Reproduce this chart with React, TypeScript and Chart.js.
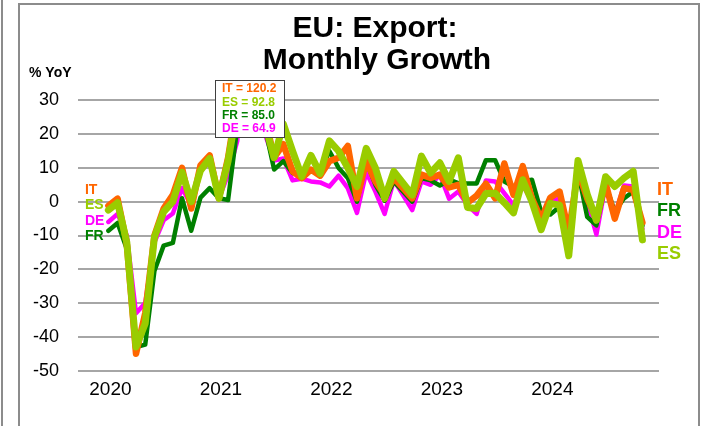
import React, { useEffect, useRef } from 'react';
import { Chart, registerables } from 'chart.js';

Chart.register(...registerables);

const FONT = "'Liberation Sans', Arial, Helvetica, sans-serif";

// Monthly categories, Jan 2020 .. Nov 2024
const months = [
  'Jan-20','Feb-20','Mar-20','Apr-20','May-20','Jun-20','Jul-20','Aug-20','Sep-20','Oct-20','Nov-20','Dec-20',
  'Jan-21','Feb-21','Mar-21','Apr-21','May-21','Jun-21','Jul-21','Aug-21','Sep-21','Oct-21','Nov-21','Dec-21',
  'Jan-22','Feb-22','Mar-22','Apr-22','May-22','Jun-22','Jul-22','Aug-22','Sep-22','Oct-22','Nov-22','Dec-22',
  'Jan-23','Feb-23','Mar-23','Apr-23','May-23','Jun-23','Jul-23','Aug-23','Sep-23','Oct-23','Nov-23','Dec-23',
  'Jan-24','Feb-24','Mar-24','Apr-24','May-24','Jun-24','Jul-24','Aug-24','Sep-24','Oct-24','Nov-24',
];

const yearLabels = ['2020', '2021', '2022', '2023', '2024'];
const yearTickMonths = ['Jan-20', 'Jan-21', 'Jan-22', 'Jan-23', 'Jan-24'];
const yTickValues = [-50, -40, -30, -20, -10, 0, 10, 20, 30];

const IT = [
  -1.2, 0.9, -12.5, -45, -33, -10, -2, 2, 10, -2, 10.7, 13.7,
  1, 13, 30, 120.2, 45, 25, 13, 17, 9, 7, 9.5, 7.7,
  12, 13, 16.5, 1, 12, 6, 2, 7, 4, 1, 8, 7,
  8, 4.2, 5, -0.3, 1.8, 5.3, 1, 11.3, 2, 10.5, 1, -5.2,
  1.2, 3, -9, 9, 1, -5, 5.5, -5, 4, 3.5, -6.2,
];

const ES = [
  -2.5, -0.3, -12, -43, -36, -10.5, -3, 0, 8.7, 0, 9.2, 12.8,
  1, 12, 28, 92.8, 40, 23, 13, 23, 15, 7.5, 13.7, 8.3,
  18, 15, 10, 4.5, 15.8, 10, 1, 9, 5.5, 2, 13.5, 8.5,
  11.5, 6, 13, -1.7, -2, 2.4, 2.5, -0.3, -3.3, 6.5, 0, -8.3,
  -0.5, -1, -16, 12.2, 2.2, -5.5, 7.4, 4.5, 7, 9, -11.3,
];

const FR = [
  -8.6, -6.3, -14, -43, -42.3, -20.5, -13, -12.2, 1, -8.6, 1.2, 4,
  1, 0.5, 22, 85.0, 35, 22, 9.5, 12, 8.5, 8.5, 9, 8.5,
  15, 10, 7, 0, 12, 5, 0.3, 6, 3, 0, 7, 6.3,
  4.8, 6.5, 5.5, 5.4, 5.4, 12.3, 12.3, 6, 4.5, 6, 6.5, -3,
  -3.8, -1.5, -10, 9, -4.5, -7, 5, -3, 1, 3, -7,
];

const DE = [
  -6, -3.6, -10, -33, -30, -12, -5.5, -3.5, 4, -1, 9, 12,
  1, 8, 18, 64.9, 30, 20, 12.2, 12.8, 6.3, 6.8, 6, 5.7,
  4.5, 7.7, 4, -3.3, 8.7, 3, -3.6, 6.3, 2, -2.5, 6, 5,
  8, 0.9, 3, -1, -3.6, 6.3, 6, 2.5, -1, 5, 0, -5,
  0, 1, -10, 9, 0, -9.7, 5, -4, 4.8, 4.5, -8,
];

const PEAK_MONTH = 'Apr-21';
const peakLines = [
  { text: 'IT = 120.2', color: '#FF6600' },
  { text: 'ES = 92.8', color: '#99CC00' },
  { text: 'FR = 85.0', color: '#008000' },
  { text: 'DE = 64.9', color: '#FF00FF' },
];
const leftLabels = [
  { text: 'IT', color: '#FF6600' },
  { text: 'ES', color: '#99CC00' },
  { text: 'DE', color: '#FF00FF' },
  { text: 'FR', color: '#008000' },
];
const rightLabels = [
  { text: 'IT', color: '#FF6600' },
  { text: 'FR', color: '#008000' },
  { text: 'DE', color: '#FF00FF' },
  { text: 'ES', color: '#99CC00' },
];

const toPoints = (arr: number[]) => arr.map((v, i) => ({ x: i, y: v }));

const overlay = {
  id: 'overlay',
  afterDatasetsDraw(chart: any) {
    const ctx = chart.ctx as CanvasRenderingContext2D;
    const xs = chart.scales.x;
    // annotation box over the April 2021 spike
    const px = xs.getPixelForValue(months.indexOf(PEAK_MONTH));
    const bx = Math.round(px - 31.5) + 0.5;
    const by = 80.5;
    const bw = 69;
    const bh = 57;
    ctx.save();
    ctx.fillStyle = '#ffffff';
    ctx.fillRect(bx, by, bw, bh);
    ctx.strokeStyle = '#404040';
    ctx.lineWidth = 1;
    ctx.strokeRect(bx, by, bw, bh);
    ctx.font = `bold 12px ${FONT}`;
    ctx.textBaseline = 'middle';
    ctx.textAlign = 'left';
    const rowsY = [88.5, 102.5, 115.5, 129];
    peakLines.forEach((l, i) => {
      ctx.fillStyle = l.color;
      ctx.fillText(l.text, bx + 6.5, rowsY[i]);
    });
    ctx.restore();

    // left series labels (near first point)
    ctx.save();
    ctx.font = `bold 14px ${FONT}`;
    ctx.textBaseline = 'middle';
    ctx.textAlign = 'left';
    const lx = xs.getPixelForValue(0) - 23.5;
    const lys = [190, 205.5, 221, 236.5];
    leftLabels.forEach((l, i) => {
      ctx.fillStyle = l.color;
      ctx.fillText(l.text, lx, lys[i]);
    });
    // right series labels
    ctx.font = `bold 18px ${FONT}`;
    const rx = xs.getPixelForValue(months.length - 1) + 14.5;
    const rys = [190, 211.5, 233, 254.5];
    rightLabels.forEach((l, i) => {
      ctx.fillStyle = l.color;
      ctx.fillText(l.text, rx, rys[i]);
    });
    ctx.restore();
  },
  afterDraw(chart: any) {
    const ctx = chart.ctx as CanvasRenderingContext2D;
    ctx.save();
    // title
    ctx.fillStyle = '#000';
    ctx.textAlign = 'center';
    ctx.textBaseline = 'alphabetic';
    ctx.font = `bold 30px ${FONT}`;
    ctx.fillText('EU: Export:', 375, 37);
    ctx.fillText('Monthly Growth', 377, 69);
    // axis unit
    ctx.textAlign = 'left';
    ctx.font = `bold 14px ${FONT}`;
    ctx.fillText('% YoY', 29, 77);
    // frame
    ctx.strokeStyle = '#8c8c8c';
    ctx.lineWidth = 2;
    ctx.beginPath();
    ctx.moveTo(2, 0);
    ctx.lineTo(2, 426);
    ctx.stroke();
    ctx.beginPath();
    ctx.moveTo(19, 440);
    ctx.lineTo(19, 4);
    ctx.lineTo(699, 4);
    ctx.lineTo(699, 440);
    ctx.stroke();
    ctx.restore();
  },
};

export default function App() {
  const ref = useRef<HTMLCanvasElement | null>(null);

  useEffect(() => {
    const canvas = ref.current;
    if (!canvas) return;
    const mk = (label: string, arr: number[], color: string, w: number) => ({
      label,
      data: toPoints(arr),
      borderColor: color,
      backgroundColor: color,
      borderWidth: w,
      pointRadius: 0,
      tension: 0,
      borderJoinStyle: 'round' as const,
      borderCapStyle: 'round' as const,
      fill: false,
    });
    const chart = new Chart(canvas, {
      type: 'line',
      data: {
        datasets: [
          mk('ES', ES, '#99CC00', 7),
          mk('IT', IT, '#FF6600', 6.5),
          mk('FR', FR, '#008000', 4.5),
          mk('DE', DE, '#FF00FF', 4.5),
        ],
      },
      options: {
        responsive: false,
        animation: false,
        events: [],
        layout: { padding: { top: 83.4, left: 0, right: 46, bottom: 0 } },
        plugins: {
          legend: { display: false },
          tooltip: { enabled: false },
          title: { display: false },
        },
        scales: {
          x: {
            type: 'linear',
            min: -3.3,
            max: 59.8,
            afterBuildTicks: (s: any) => {
              s.ticks = yearTickMonths.map((m) => ({ value: months.indexOf(m) }));
            },
            afterFit: (s: any) => {
              s.height = 55.3;
            },
            ticks: {
              autoSkip: false,
              maxRotation: 0,
              minRotation: 0,
              padding: 8,
              labelOffset: 2,
              color: '#000',
              font: { family: FONT, size: 19 },
              callback: (v: any) => {
                const idx = yearTickMonths.findIndex((m) => months.indexOf(m) === v);
                return idx >= 0 ? yearLabels[idx] : '';
              },
            },
            grid: { display: false, drawTicks: false },
            border: { display: false },
          },
          y: {
            type: 'linear',
            min: -50,
            max: 35,
            afterBuildTicks: (s: any) => {
              s.ticks = yTickValues.map((v) => ({ value: v }));
            },
            afterFit: (s: any) => {
              s.width = 78;
            },
            ticks: {
              padding: 19,
              color: '#000',
              font: { family: FONT, size: 18 },
            },
            grid: { color: '#a6a6a6', lineWidth: 2, drawTicks: false },
            border: { display: false },
          },
        },
      },
      plugins: [overlay],
    });
    return () => chart.destroy();
  }, []);

  return (
    <div style={{ position: 'absolute', left: 0, top: 0, width: 705, height: 426, background: '#fff' }}>
      <canvas ref={ref} width={705} height={426} style={{ display: 'block', width: 705, height: 426 }} />
    </div>
  );
}
